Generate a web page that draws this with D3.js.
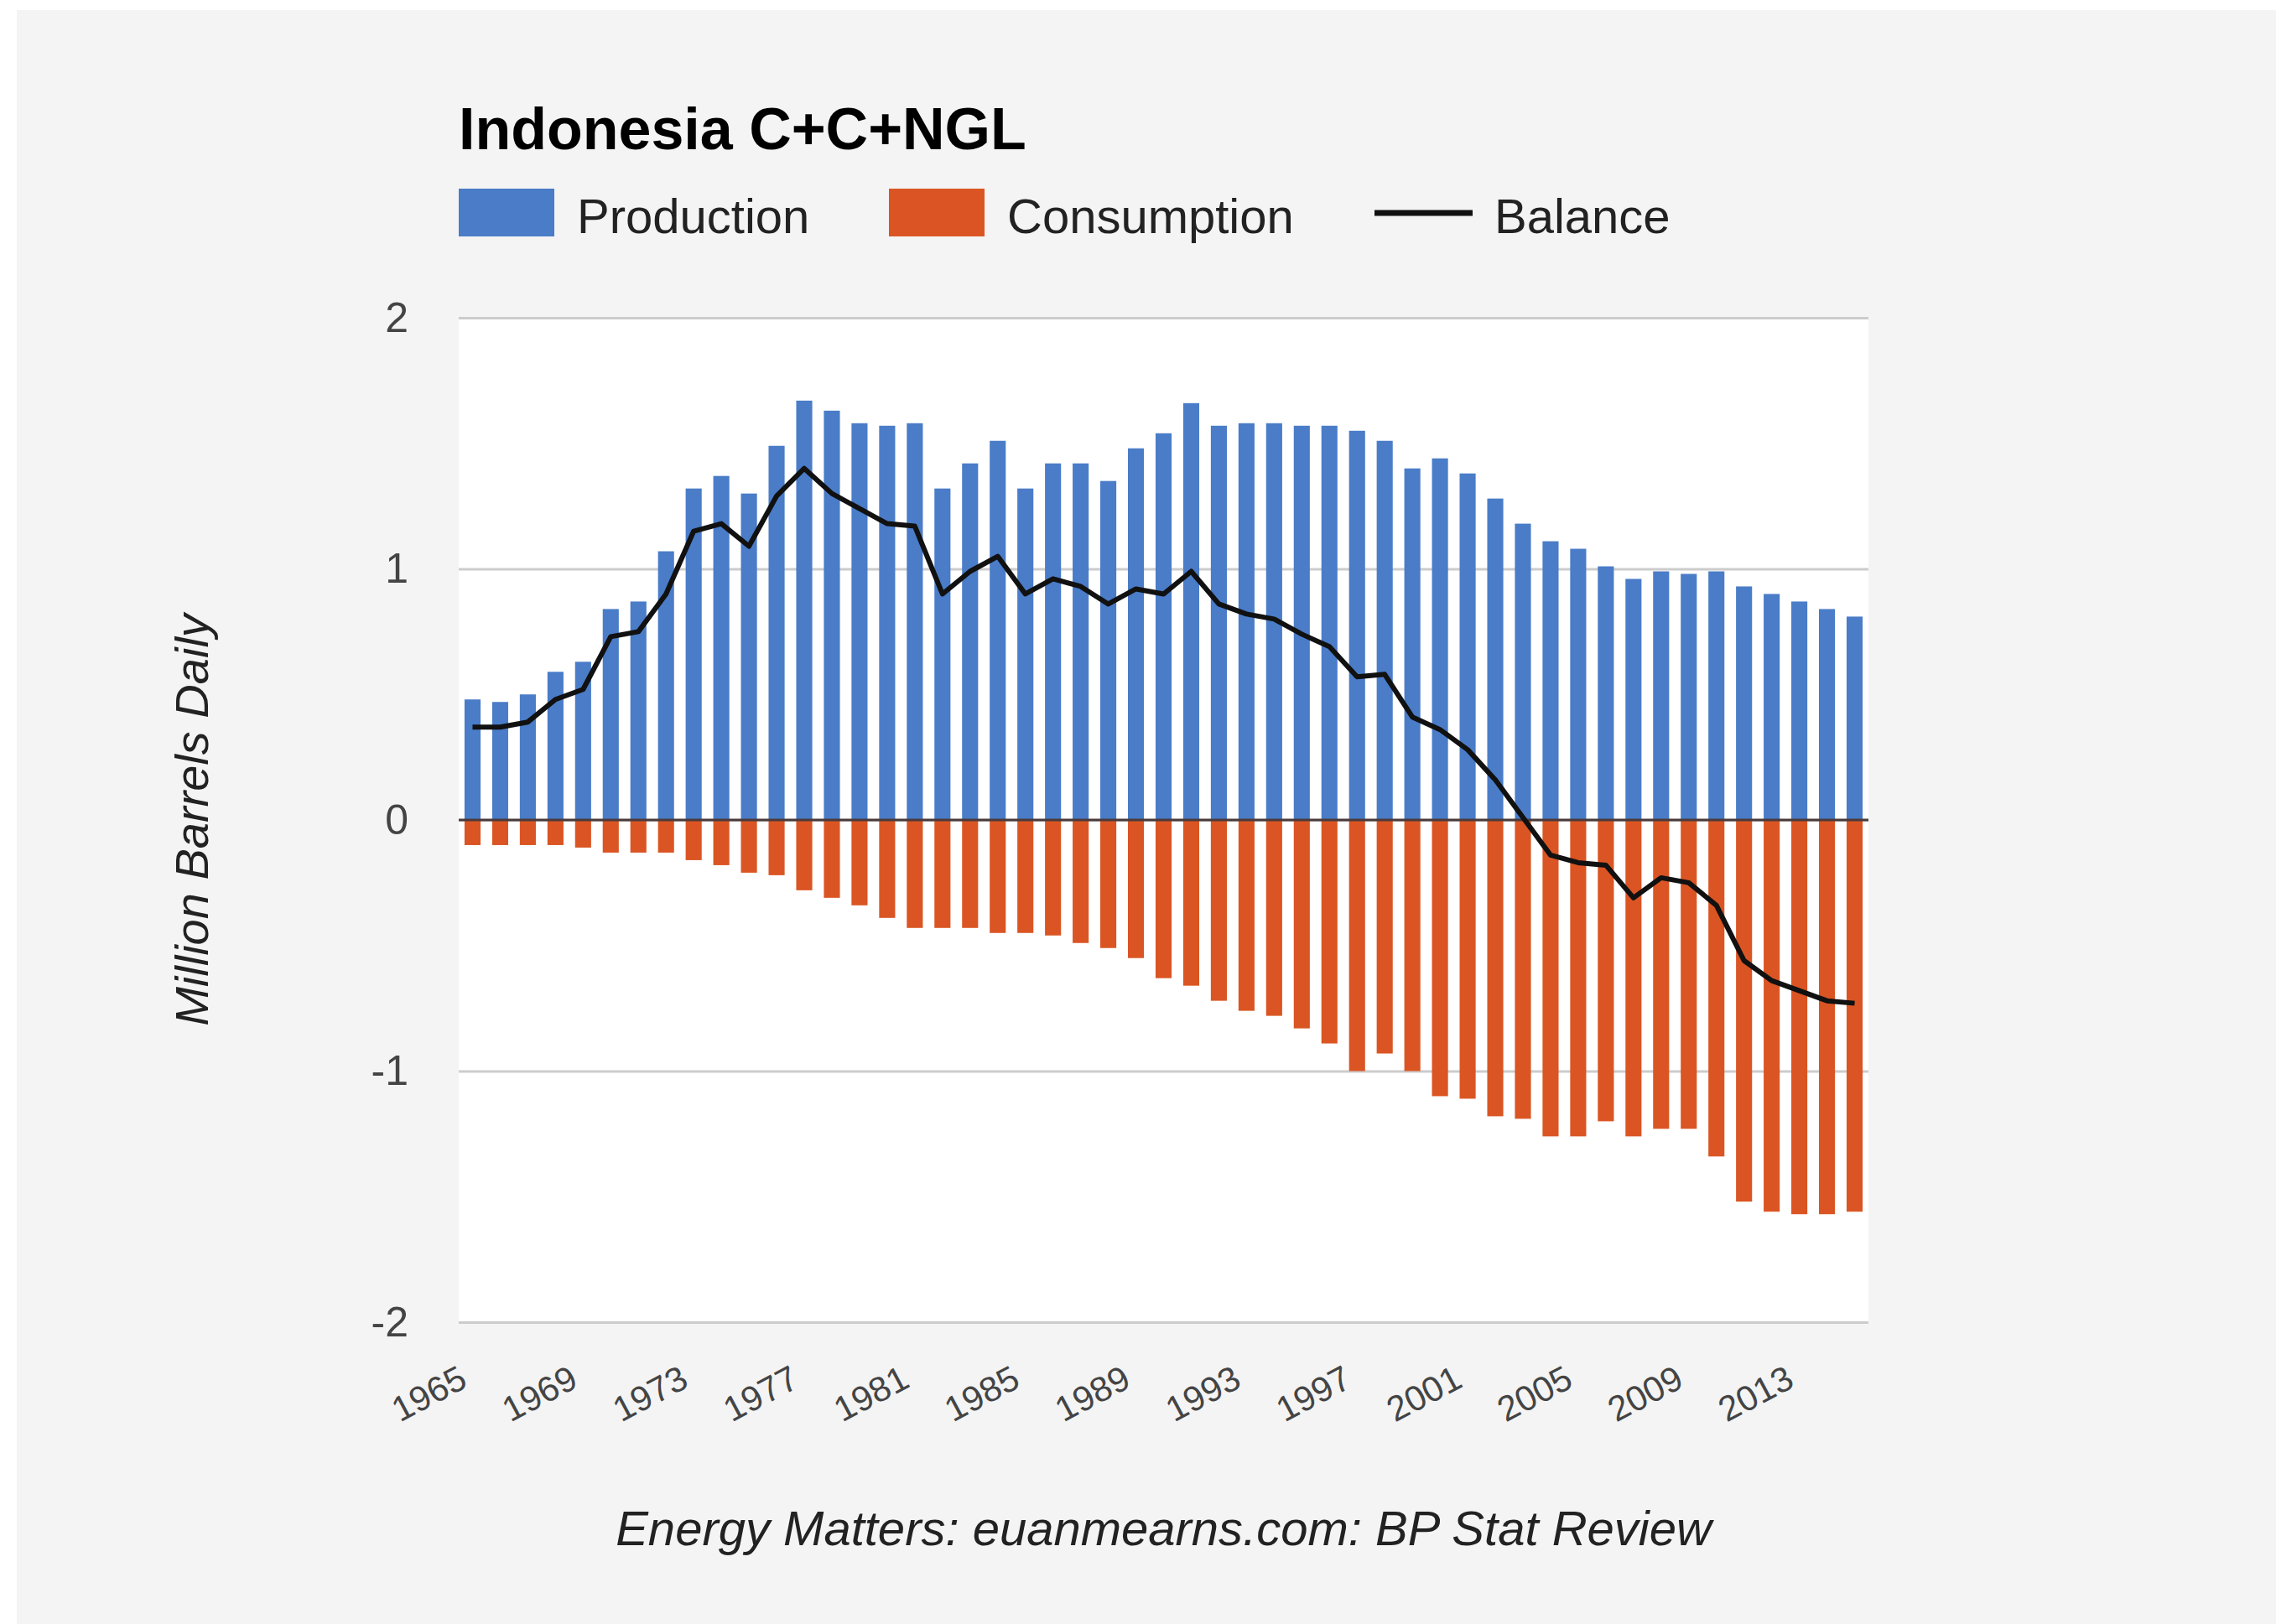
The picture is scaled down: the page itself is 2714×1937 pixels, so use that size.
<!DOCTYPE html>
<html>
<head>
<meta charset="utf-8">
<script src="https://cdn.jsdelivr.net/npm/d3@7"></script>
<style>
  html, body { margin: 0; padding: 0; background: #ffffff; }
  svg { display: block; font-family: "Liberation Sans", Arial, sans-serif; }
</style>
</head>
<body>
<div id="chart"></div>
<script>
// Indonesia C+C+NGL, million barrels daily
const years = d3.range(1965, 2016);
const production = [
  0.48, 0.47, 0.50, 0.59, 0.63, 0.84, 0.87, 1.07, 1.32, 1.37,
  1.30, 1.49, 1.67, 1.63, 1.58, 1.57, 1.58, 1.32, 1.42, 1.51,
  1.32, 1.42, 1.42, 1.35, 1.48, 1.54, 1.66, 1.57, 1.58, 1.58,
  1.57, 1.57, 1.55, 1.51, 1.40, 1.44, 1.38, 1.28, 1.18, 1.11,
  1.08, 1.01, 0.96, 0.99, 0.98, 0.99, 0.93, 0.90, 0.87, 0.84,
  0.81
];
const consumption = [
  -0.10, -0.10, -0.10, -0.10, -0.11, -0.13, -0.13, -0.13, -0.16, -0.18,
  -0.21, -0.22, -0.28, -0.31, -0.34, -0.39, -0.43, -0.43, -0.43, -0.45,
  -0.45, -0.46, -0.49, -0.51, -0.55, -0.63, -0.66, -0.72, -0.76, -0.78,
  -0.83, -0.89, -1.00, -0.93, -1.00, -1.10, -1.11, -1.18, -1.19, -1.26,
  -1.26, -1.20, -1.26, -1.23, -1.23, -1.34, -1.52, -1.56, -1.57, -1.57,
  -1.56
];
const balance = [
  0.37, 0.37, 0.39, 0.48, 0.52, 0.73, 0.75, 0.90, 1.15, 1.18,
  1.09, 1.29, 1.40, 1.30, 1.24, 1.18, 1.17, 0.90, 0.99, 1.05,
  0.90, 0.96, 0.93, 0.86, 0.92, 0.90, 0.99, 0.86, 0.82, 0.80,
  0.74, 0.69, 0.57, 0.58, 0.41, 0.36, 0.28, 0.16, 0.01, -0.14,
  -0.17, -0.18, -0.31, -0.23, -0.25, -0.34, -0.56, -0.64, -0.68, -0.72,
  -0.73
];
const yTicks = [-2, -1, 0, 1, 2];
const xTickYears = [1965, 1969, 1973, 1977, 1981, 1985, 1989, 1993, 1997, 2001, 2005, 2009, 2013];

const seriesNames = ["Production", "Consumption", "Balance"];
const colors = { Production: "#4a7cc8", Consumption: "#da5523", Balance: "#111111" };

const W = 2714, H = 1937;
const plot = { left: 547, right: 2228, top: 379, bottom: 1577 };

const svg = d3.select("#chart").append("svg")
  .attr("width", W)
  .attr("height", H);

// grey card behind the chart
svg.append("rect")
  .attr("x", 20).attr("y", 12)
  .attr("width", W - 20).attr("height", H - 12)
  .attr("fill", "#f4f4f4");

// white plot area
svg.append("rect")
  .attr("x", plot.left).attr("y", plot.top)
  .attr("width", plot.right - plot.left).attr("height", plot.bottom - plot.top)
  .attr("fill", "#ffffff");

const x = d3.scaleBand()
  .domain(years)
  .range([plot.left, plot.right])
  .paddingInner(0.42)
  .paddingOuter(0.21);

const y = d3.scaleLinear()
  .domain([-2, 2])
  .range([plot.bottom, plot.top]);

// y axis + gridlines
const yAxis = svg.append("g")
  .attr("transform", `translate(${plot.left},0)`)
  .call(d3.axisLeft(y)
    .tickValues(yTicks)
    .tickFormat(d => String(d))
    .tickSize(-(plot.right - plot.left))
    .tickPadding(60));
yAxis.select(".domain").remove();
yAxis.selectAll(".tick line")
  .attr("stroke", "#cccccc")
  .attr("stroke-width", 3);
yAxis.selectAll(".tick text")
  .attr("x", -60)
  .attr("fill", "#444444")
  .style("font-size", "50px")
  .style("text-anchor", "end");

// bars
const rows = years.map((yr, i) => ({
  year: yr,
  production: production[i],
  consumption: consumption[i],
  balance: balance[i]
}));

svg.selectAll(".bar-prod")
  .data(rows)
  .enter()
  .append("rect")
  .attr("class", "bar-prod")
  .attr("x", d => x(d.year))
  .attr("y", d => y(d.production))
  .attr("width", x.bandwidth())
  .attr("height", d => y(0) - y(d.production))
  .attr("fill", colors.Production);

svg.selectAll(".bar-cons")
  .data(rows)
  .enter()
  .append("rect")
  .attr("class", "bar-cons")
  .attr("x", d => x(d.year))
  .attr("y", y(0))
  .attr("width", x.bandwidth())
  .attr("height", d => y(d.consumption) - y(0))
  .attr("fill", colors.Consumption);

// zero baseline
svg.append("line")
  .attr("x1", plot.left).attr("x2", plot.right)
  .attr("y1", y(0)).attr("y2", y(0))
  .attr("stroke", "#4a3a3a")
  .attr("stroke-width", 3);

// balance line
const line = d3.line()
  .x(d => x(d.year) + x.bandwidth() / 2)
  .y(d => y(d.balance));

svg.append("path")
  .datum(rows)
  .attr("d", line)
  .attr("fill", "none")
  .attr("stroke", colors.Balance)
  .attr("stroke-width", 6)
  .attr("stroke-linejoin", "round");

// x axis labels
const xAxis = svg.append("g")
  .attr("transform", `translate(0,${plot.bottom})`)
  .call(d3.axisBottom(x).tickValues(xTickYears).tickSize(0));
xAxis.select(".domain").remove();
xAxis.selectAll(".tick text")
  .attr("fill", "#444444")
  .style("font-size", "42px")
  .style("text-anchor", "end")
  .attr("y", 0)
  .attr("dy", 0)
  .attr("transform", "translate(-4,76) rotate(-28)");

// title
svg.append("text")
  .attr("x", plot.left)
  .attr("y", 178)
  .attr("fill", "#000000")
  .style("font-size", "70px")
  .style("font-weight", "bold")
  .text("Indonesia C+C+NGL");

// legend
const legendX = [547, 1060, 1639];
const legend = svg.selectAll(".legend")
  .data(seriesNames)
  .enter()
  .append("g")
  .attr("class", "legend")
  .attr("transform", (d, i) => `translate(${legendX[i]},0)`);

legend.filter(d => d !== "Balance")
  .append("rect")
  .attr("x", 0).attr("y", 225)
  .attr("width", 114).attr("height", 57)
  .attr("fill", d => colors[d]);

legend.filter(d => d === "Balance")
  .append("line")
  .attr("x1", 0).attr("x2", 117)
  .attr("y1", 254).attr("y2", 254)
  .attr("stroke", colors.Balance)
  .attr("stroke-width", 7);

legend.append("text")
  .attr("x", d => d === "Balance" ? 143 : 141)
  .attr("y", 278)
  .attr("fill", "#222222")
  .style("font-size", "58px")
  .text(d => d);

// y axis title
svg.append("text")
  .attr("transform", `translate(248,${(plot.top + plot.bottom) / 2}) rotate(-90)`)
  .attr("fill", "#222222")
  .style("font-size", "56px")
  .style("font-style", "italic")
  .style("text-anchor", "middle")
  .text("Million Barrels Daily");

// source footer
svg.append("text")
  .attr("x", (plot.left + plot.right) / 2)
  .attr("y", 1843)
  .attr("fill", "#222222")
  .style("font-size", "58px")
  .style("font-style", "italic")
  .style("text-anchor", "middle")
  .text("Energy Matters: euanmearns.com: BP Stat Review");
</script>
</body>
</html>
